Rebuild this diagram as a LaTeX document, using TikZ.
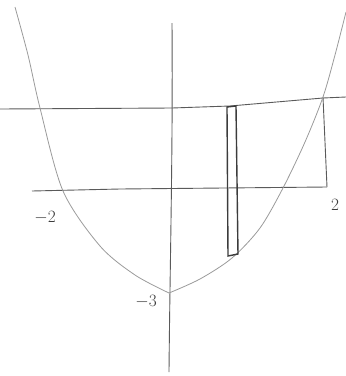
\documentclass[tikz,border=0pt]{standalone}
\usepackage{tikz}
\usetikzlibrary{calc}
\definecolor{pencil}{HTML}{5A5A5A}
\definecolor{pencilfaint}{HTML}{9A9A9A}
\definecolor{pencildark}{HTML}{3C3C3C}

\begin{document}
\begin{tikzpicture}[x=1pt, y=-1pt,
    axis/.style={pencil, line width=0.9pt},
    curve/.style={pencilfaint, line width=0.8pt},
    strip/.style={pencildark, line width=1.4pt},
    lbl/.style={font=\LARGE, color=pencildark, inner sep=0pt}
]
    \useasboundingbox (0,0) rectangle (346,376);

    % Key points
    \coordinate (vtx) at (169,293);
    \coordinate (ytop) at (172,23);
    \coordinate (ybot) at (169,372);

    % Axis and lines
    \draw[axis] (ytop) .. controls (173,150) and (170,260) .. (ybot);
    \draw[axis] (0,109) -- (172,108) -- (230,106) -- (323,98) -- (346,97);
    \draw[axis] (32,191) -- (120,189) -- (327,187);
    \draw[axis] (323,97) -- (327,187);

    % Parabola
    \draw[curve] plot[smooth] coordinates {(15,7) (28,55) (40,108) (63,191)
        (100,246) (135,275) (vtx)};
    \draw[curve] plot[smooth] coordinates {(vtx) (200,279) (232,258)
        (260,228) (283,188) (305,142) (323,97) (335,55) (346,12)};

    % Strip
    \draw[strip] (227,107) -- (236,106) -- (238,254) -- (228,256) -- cycle;

    % Labels
    \node[lbl] (lm2) at (45,218) {$-2$};
    \node[lbl] (lp2) at (335,205) {$2$};
    \node[lbl] (lm3) at (146,302) {$-3$};

\end{tikzpicture}
\end{document}
